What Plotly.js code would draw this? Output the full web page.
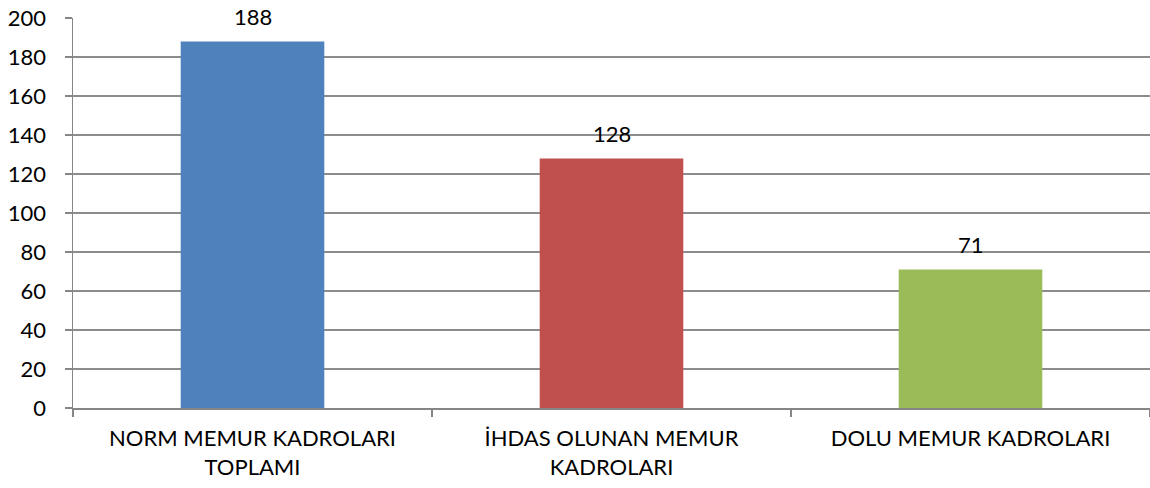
<!DOCTYPE html>
<html>
<head>
<meta charset="utf-8">
<script src="https://cdn.plot.ly/plotly-3.0.1.min.js"></script>
<style>html,body{margin:0;padding:0;background:#fff;overflow:hidden}</style>
</head>
<body>
<div id="chart" style="width:1150px;height:488px"></div>
<script>
const categories = ["NORM MEMUR KADROLARI<br>TOPLAMI", "İHDAS OLUNAN MEMUR<br>KADROLARI", "DOLU MEMUR KADROLARI"];
const values = [188, 128, 71];
const barColors = ["#4F81BD", "#C0504D", "#9BBB59"];
const yTicks = [0, 20, 40, 60, 80, 100, 120, 140, 160, 180, 200];

const font = "Lato, 'Open Sans', sans-serif";
Plotly.newPlot("chart", [{
  type: "bar",
  x: categories,
  y: values,
  marker: {color: barColors},
  hoverinfo: "none"
}], {
  width: 1150, height: 488,
  margin: {l: 73, r: 0, t: 18, b: 80},
  paper_bgcolor: "#fff", plot_bgcolor: "#fff",
  bargap: 0.6,
  showlegend: false,
  font: {family: font, size: 22, color: "#000"},
  annotations: values.map((v, i) => ({
    x: categories[i], y: v, xref: "x", yref: "y",
    text: String(v), showarrow: false,
    yanchor: "middle", yshift: 25,
    font: {family: font, size: 22, color: "#000"}
  })),
  xaxis: {
    type: "category",
    range: [-0.5, 2.5],
    showgrid: false,
    showline: true, linecolor: "#868686", linewidth: 1.5,
    ticks: "outside", tickson: "boundaries", ticklen: 7, tickcolor: "#868686", tickwidth: 1.5,
    ticklabelstandoff: 10,
    tickfont: {family: font, size: 22, color: "#000"},
    automargin: false
  },
  yaxis: {
    range: [0, 200],
    tickvals: yTicks,
    showgrid: true, gridcolor: "#8c8c8c", gridwidth: 1.5,
    zeroline: false,
    showline: true, linecolor: "#868686", linewidth: 1.5,
    ticks: "outside", ticklen: 7, tickcolor: "#868686", tickwidth: 1.5,
    ticklabelstandoff: 14,
    tickfont: {family: font, size: 22, color: "#000"},
    automargin: false
  }
}, {staticPlot: true});
</script>
</body>
</html>
